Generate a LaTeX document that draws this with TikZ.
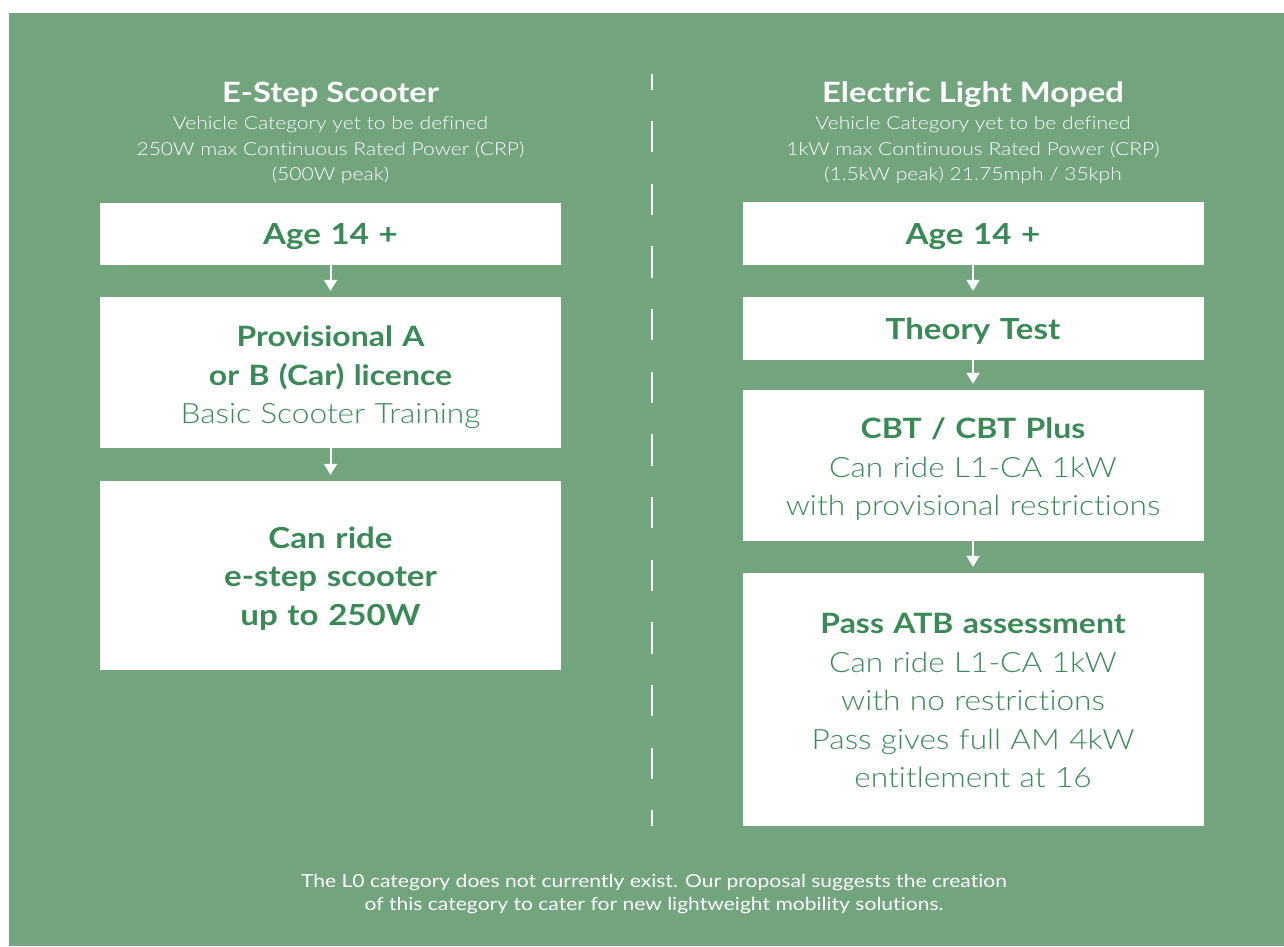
\documentclass[tikz,border=0pt]{standalone}
\usepackage{fontspec}
\setmainfont{Lato}[FakeStretch=1.14, Ligatures={NoCommon}]
\newfontfamily\lightfont{Lato}[UprightFont=* Light, FakeStretch=1.13, Ligatures={NoCommon}]
\newfontfamily\lightwide{Lato}[UprightFont=* Light, FakeStretch=1.17, Ligatures={NoCommon}]
\newfontfamily\widefont{Lato}[FakeStretch=1.17, Ligatures={NoCommon}]
\newfontfamily\titlefont{Lato}[UprightFont=* Bold, FakeStretch=1.17, Ligatures={NoCommon}]
\usetikzlibrary{arrows.meta, positioning}
\definecolor{bggreen}{RGB}{114,165,126}
\definecolor{txtgreen}{RGB}{58,138,88}
\tikzstyle{block}=[fill=white,rectangle,inner sep=0pt,minimum width=461pt]
\tikzstyle{boxtext}=[inner sep=0pt,text width=455pt,align=center,text=txtgreen]
\tikzstyle{head}=[boxtext,font=\fontsize{29}{38.5}\selectfont\bfseries]
\tikzstyle{body}=[boxtext,font=\fontsize{28}{38.5}\selectfont\lightfont]
\tikzstyle{sub}=[text=white,align=center,font=\fontsize{18}{25.5}\selectfont\lightwide]
\newcommand{\hd}[1]{{\normalfont\bfseries #1}}

\begin{document}
\begin{tikzpicture}[x=1pt,y=-1pt,node distance=100pt,>={Triangle[width=13pt,length=11pt]}]
    \useasboundingbox (0,0) rectangle (1284,946);
    \fill[white] (0,0) rectangle (1284,946);
    \fill[bggreen] (9,13) rectangle (1284,946);
    % left column
    \node[text=white,font=\fontsize{28}{30}\selectfont\titlefont] (tl) at (330.5,95) {E-Step Scooter};
    \node[sub] (sl) at (330.5,150.5) {Vehicle Category yet to be defined\\250W max Continuous Rated Power (CRP)\\(500W peak)};
    \node[block, minimum height=62pt] (age1) at (330.5,234) {};
    \node[block, minimum height=151pt, below of=age1, node distance=138.5pt] (prov) {};
    \node[block, minimum height=189pt, below of=prov, node distance=203pt] (ride) {};
    \node[head, yshift=-3pt] (age1t) at (age1) {Age 14 +};
    \node[body, yshift=-5pt] (provt) at (prov) {\hd{Provisional A}\\\hd{or B (Car) licence}\\Basic Scooter Training};
    \node[head, yshift=-3pt] (ridet) at (ride) {Can ride\\e-step scooter\\up to 250W};
    % right column
    \node[text=white,font=\fontsize{28}{30}\selectfont\titlefont] (tr) at (973,95) {Electric Light Moped};
    \node[sub] (sr) at (973,150.5) {Vehicle Category yet to be defined\\1kW max Continuous Rated Power (CRP)\\(1.5kW peak) 21.75mph / 35kph};
    \node[block, minimum height=63pt] (age2) at (973,233.5) {};
    \node[block, minimum height=63pt, below of=age2, node distance=95pt] (theory) {};
    \node[block, minimum height=151pt, below of=theory, node distance=137pt] (cbt) {};
    \node[block, minimum height=253pt, below of=cbt, node distance=234pt] (atb) {};
    \node[head, yshift=-3pt] (age2t) at (age2) {Age 14 +};
    \node[head, yshift=-3pt] (theoryt) at (theory) {Theory Test};
    \node[body, yshift=-4pt] (cbtt) at (cbt) {\hd{CBT / CBT Plus}\\Can ride L1-CA 1kW\\with provisional restrictions};
    \node[body, yshift=-1pt] (atbt) at (atb) {\hd{Pass ATB assessment}\\Can ride L1-CA 1kW\\with no restrictions\\Pass gives full AM 4kW\\entitlement at 16};
    % divider
    \coordinate (dtop) at (652,74);
    \coordinate (dbot) at (652,826);
    \draw[white, line width=2.5pt, dash pattern=on 31.33pt off 31.33pt, dash phase=15.67pt] (dtop) -- (dbot);
    % arrows
    \draw[->, white, line width=2pt, shorten >=6pt] (age1) -- (prov);
    \draw[->, white, line width=2pt, shorten >=6pt] (prov) -- (ride);
    \draw[->, white, line width=2pt, shorten >=6pt] (age2) -- (theory);
    \draw[->, white, line width=2pt, shorten >=6pt] (theory) -- (cbt);
    \draw[->, white, line width=2pt, shorten >=6pt] (cbt) -- (atb);
    % footnote
    \node[text=white, align=center, font=\fontsize{18}{23}\selectfont\widefont] (note) at (654,894) {The L0 category does not currently exist. Our proposal suggests the creation\\of this category to cater for new lightweight mobility solutions.};
\end{tikzpicture}
\end{document}
